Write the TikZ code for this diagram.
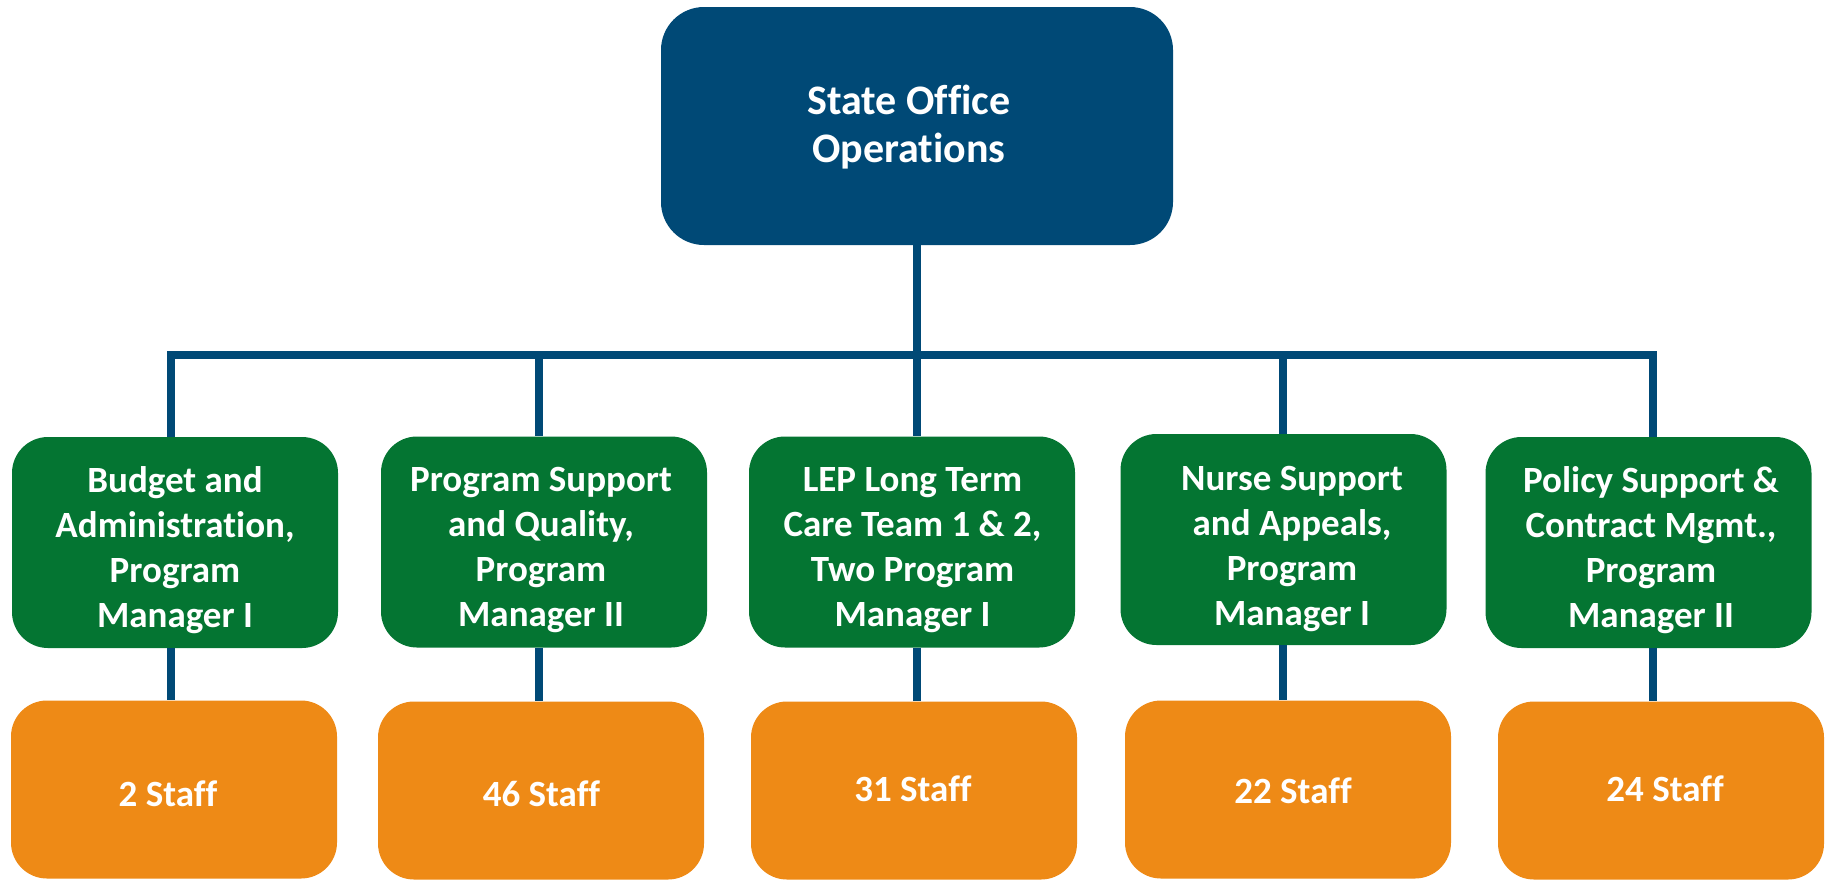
\documentclass[tikz,border=0pt]{standalone}
\usepackage{fontspec}
\setmainfont{Carlito}[Ligatures=NoCommon]
\definecolor{navy}{RGB}{0,73,118}
\definecolor{cgreen}{RGB}{4,117,50}
\definecolor{corange}{RGB}{238,138,22}
\begin{document}
\begin{tikzpicture}[x=1pt,y=-1pt,
  topbox/.style={fill=navy, rounded corners=43pt, minimum width=512pt, minimum height=238pt, inner sep=0pt},
  mgrbox/.style={fill=cgreen, rounded corners=36pt, minimum width=326pt, minimum height=211pt, inner sep=0pt},
  staffbox/.style={fill=corange, rounded corners=36pt, minimum width=326pt, minimum height=178pt, inner sep=0pt},
  lbl/.style={text=white, font=\bfseries\fontsize{37}{45}\selectfont, align=center, inner sep=0pt,
    execute at begin node=\strut, execute at end node=\strut},
  toplbl/.style={text=white, font=\bfseries\fontsize{42}{48}\selectfont, align=center, inner sep=0pt,
    execute at begin node=\strut, execute at end node=\strut},
  link/.style={draw=navy, line width=8pt}]
\useasboundingbox (0,0) rectangle (1825,879);

% top
\node[topbox] (top) at (917,126) {};
\node[toplbl] (toptext) at (909,131) {State Office\\Operations};

% managers
\node[mgrbox] (b1) at (175,542.5) {};
\node[mgrbox] (b2) at (544,542) {};
\node[mgrbox] (b3) at (912,542) {};
\node[mgrbox] (b4) at (1283.5,539.5) {};
\node[mgrbox] (b5) at (1648.5,542.5) {};

\node[lbl] (t1) at (175,554) {Budget and\\Administration,\\Program\\Manager I};
\node[lbl] (t2) at (541,554) {Program Support\\and Quality,\\Program\\Manager II};
\node[lbl] (t3) at (912.5,554) {LEP Long Term\\Care Team 1 \& 2,\\Two Program\\Manager I};
\node[lbl] (t4) at (1292,553) {Nurse Support\\and Appeals,\\Program\\Manager I};
\node[lbl] (t5) at (1651,554) {Policy Support \&\\Contract Mgmt.,\\Program\\Manager II};

% staff
\node[staffbox] (o1) at (174,789.5) {};
\node[staffbox] (o2) at (541,790.5) {};
\node[staffbox] (o3) at (914,790.5) {};
\node[staffbox] (o4) at (1288,789.5) {};
\node[staffbox] (o5) at (1661,790.5) {};

\node[lbl] (s1) at (168,797) {2 Staff};
\node[lbl] (s2) at (541.5,797) {46 Staff};
\node[lbl] (s3) at (913,792) {31 Staff};
\node[lbl] (s4) at (1293,794) {22 Staff};
\node[lbl] (s5) at (1665,792) {24 Staff};

% connectors
\coordinate (j1) at (171,355);
\coordinate (j2) at (538.5,355);
\coordinate (j3) at (916.5,355);
\coordinate (j4) at (1283,355);
\coordinate (j5) at (1653,355);
\draw[link] (top.south -| j3) -- (j3);
\draw[link] (j1 |- b1.north) -- (j1) -- (j5) -- (j5 |- b5.north);
\draw[link] (j2) -- (j2 |- b2.north);
\draw[link] (j3) -- (j3 |- b3.north);
\draw[link] (j4) -- (j4 |- b4.north);

\draw[link] (j1 |- b1.south) -- (j1 |- o1.north);
\draw[link] (j2 |- b2.south) -- (j2 |- o2.north);
\draw[link] (j3 |- b3.south) -- (j3 |- o3.north);
\draw[link] (j4 |- b4.south) -- (j4 |- o4.north);
\draw[link] (j5 |- b5.south) -- (j5 |- o5.north);
\end{tikzpicture}
\end{document}
